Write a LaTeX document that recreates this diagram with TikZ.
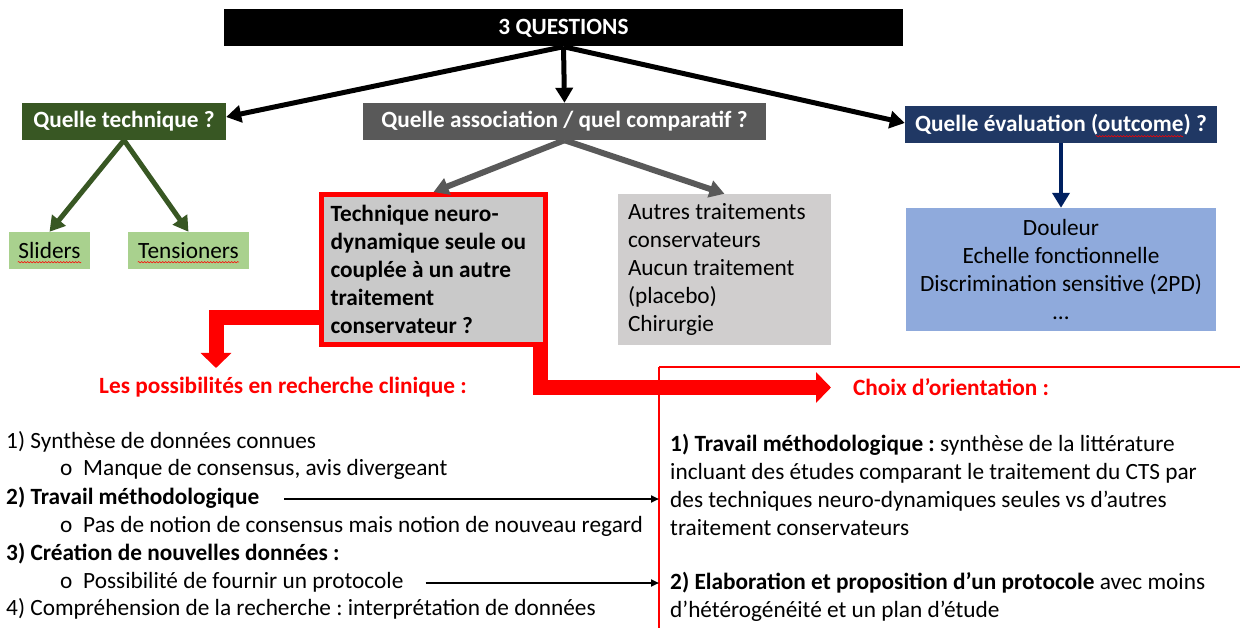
\documentclass[tikz,border=0pt]{standalone}
\usepackage{fontspec}
\setmainfont{Carlito}
\frenchspacing
\usetikzlibrary{arrows.meta,positioning,decorations.pathmorphing}

\definecolor{darkgreen}{HTML}{385723}
\definecolor{lightgreen}{HTML}{A9D18E}
\definecolor{darkgrey}{HTML}{595959}
\definecolor{boxgrey}{HTML}{C9C9C9}
\definecolor{lightgrey}{HTML}{D0CECE}
\definecolor{navy}{HTML}{203864}
\definecolor{arrownavy}{HTML}{002060}
\definecolor{lightblue}{HTML}{8FAADC}

\newcommand{\hdfont}{\fontsize{23.3}{28}\selectfont\bfseries}
\newcommand{\bodyfont}{\fontsize{23.3}{28}\selectfont}

\tikzset{
  headbox/.style={inner sep=0pt, minimum height=37pt, text=white, font=\hdfont},
  leafbox/.style={inner sep=0pt, minimum height=37pt, fill=lightgreen, font=\bodyfont},
  bigarrow/.style={line width=5pt, -{Triangle[length=15pt,width=17pt]}},
  redarrow/.style={red, line width=15pt, -{Triangle[length=15pt,width=30pt]}},
  thinarrow/.style={line width=2pt, -{Triangle[length=8pt,width=7pt]}},
  textline/.style={anchor=west, inner sep=0pt, text height=16pt, text depth=5pt, font=\bodyfont},
  squiggle/.style={red, line width=0.5pt, decorate, decoration={snake, amplitude=0.7pt, segment length=3pt}},
}

\begin{document}
\begin{tikzpicture}[x=1pt,y=-1pt]
	\useasboundingbox (0,0) rectangle (1240,628);

	% questions
	\node[headbox, fill=black, minimum width=679pt] (top) at (563.5,28) {3 QUESTIONS};
	\node[headbox, fill=darkgreen, minimum width=204pt] (tech) at (124,121.5) {Quelle technique ?};
	\node[headbox, fill=darkgrey, minimum width=403pt] (assoc) at (564.5,121.5) {Quelle association / quel comparatif ?};
	\node[headbox, fill=navy, minimum width=312pt] (eval) at (1061,124.5) {Quelle évaluation (outcome) ?};

	\node[leafbox, minimum width=81pt] (slid) at (49.5,250.5) {Sliders};
	\node[leafbox, minimum width=121pt] (tens) at (188.5,250.5) {Tensioners};
	\node[draw=red, line width=5pt, fill=boxgrey, minimum width=224pt, minimum height=150pt, text width=206pt, inner xsep=9pt, align=flush left, font=\bodyfont\bfseries] (neuro) at (433.5,269.5) {Technique neuro-\\dynamique seule ou\\couplée à un autre\\traitement\\conservateur ?};
	\node[fill=lightgrey, minimum width=213pt, minimum height=151pt, text width=193pt, inner xsep=10pt, align=flush left, font=\bodyfont] (autres) at (724.5,269.5) {Autres traitements\\conservateurs\\Aucun traitement\\(placebo)\\Chirurgie};
	\node[fill=lightblue, minimum width=310pt, minimum height=123pt, align=center, font=\bodyfont] (crit) at (1061,269.5) {Douleur\\Echelle fonctionnelle\\Discrimination sensitive (2PD)\\…};

	\draw[bigarrow] (top.south) -- ([yshift=4.5pt]tech.east);
	\draw[bigarrow] (top.south) -- (assoc.north);
	\draw[bigarrow] (top.south) -- ([yshift=1.5pt]eval.west);
	\draw[bigarrow, darkgreen] (tech.south) -- (slid.north);
	\draw[bigarrow, darkgreen] (tech.south) -- (tens.north);
	\draw[bigarrow, darkgrey, line width=6pt] (assoc.south) -- (neuro.north);
	\draw[bigarrow, darkgrey, line width=6pt] (assoc.south) -- (autres.north);
	\draw[bigarrow, arrownavy, line width=4pt] (eval.south) -- (crit.north);

	% spell-check marks
	\draw[squiggle] ([shift={(9pt,7pt)}]slid.south west) -- ([shift={(-9pt,7pt)}]slid.south east);
	\draw[squiggle] ([shift={(10pt,7pt)}]tens.south west) -- ([shift={(-10pt,7pt)}]tens.south east);
	\draw[squiggle] ([shift={(191pt,7pt)}]eval.south west) -- ([shift={(-34pt,7pt)}]eval.south east);

	% orientation
	\coordinate (possibtip) at (216,368);
	\coordinate (choixtip) at (831,387.5);
	\coordinate (fl) at (659,367);
	\draw[redarrow] ([yshift=-48pt]neuro.west) -| (possibtip);
	\draw[redarrow] ([xshift=107pt]neuro.south) |- (choixtip);
	\draw[red, line width=2pt] (fl) -- (1250,367) (fl) -- (659,640);

	\node[font=\bodyfont\bfseries, text=red] (possib) at (283,387) {Les possibilités en recherche clinique :};
	\node[font=\bodyfont\bfseries, text=red] (choix) at (951,387) {Choix d’orientation :};

	\node[textline] (l1) at (6,443) {1) Synthèse de données connues};
	\node[textline] (l1a) at (60,470) {\makebox[23pt][l]{o}Manque de consensus, avis divergeant};
	\node[textline, font=\bodyfont\bfseries] (l2) at (6,499) {2) Travail méthodologique};
	\node[textline] (l2a) at (60,527) {\makebox[23pt][l]{o}Pas de notion de consensus mais notion de nouveau regard};
	\node[textline, font=\bodyfont\bfseries] (l3) at (6,555) {3) Création de nouvelles données :};
	\node[textline] (l3a) at (60,583) {\makebox[23pt][l]{o}Possibilité de fournir un protocole};
	\node[textline] (l4) at (6,610) {4) Compréhension de la recherche : interprétation de données};

	\node[anchor=west, inner xsep=11pt, inner ysep=0pt, align=flush left, font=\bodyfont] (ch1) at (659,484.5) {\textbf{1) Travail méthodologique :} synthèse de la littérature\\incluant des études comparant le traitement du CTS par\\des techniques neuro-dynamiques seules vs d’autres\\traitement conservateurs};
	\node[anchor=west, inner xsep=11pt, inner ysep=0pt, align=flush left, font=\bodyfont] (ch2) at (659,596.5) {\textbf{2) Elaboration et proposition d’un protocole} avec moins\\d’hétérogénéité et un plan d’étude};

	\draw[thinarrow] ([xshift=25pt]l2.east) -- (l2 -| ch1.west);
	\draw[thinarrow] ([xshift=22pt]l3a.east) -- (l3a -| ch2.west);

\end{tikzpicture}
\end{document}
